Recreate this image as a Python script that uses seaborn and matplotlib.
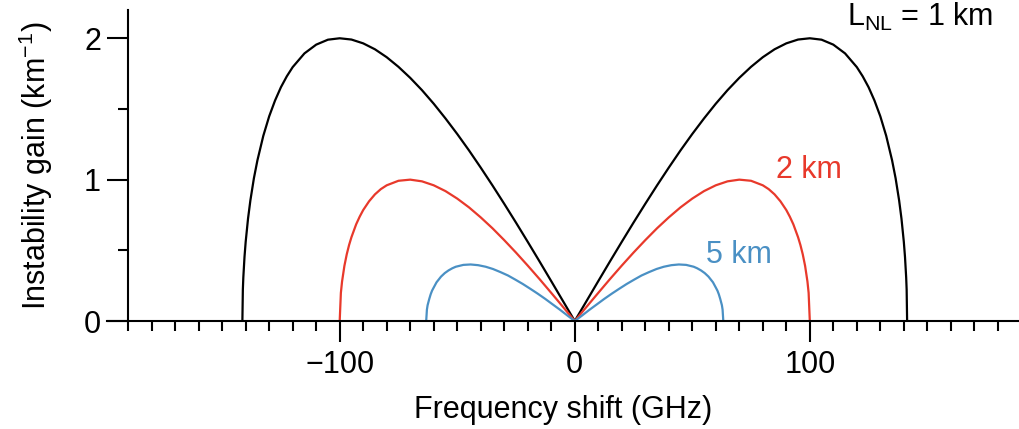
import pandas as pd
import seaborn as sns
import matplotlib
matplotlib.use('Agg')
import matplotlib.pyplot as plt
from matplotlib.ticker import MultipleLocator

# Positive-frequency half of each gain curve (GHz, km^-1)
freq_1km = [0, 5, 10, 15, 20, 25, 30, 35, 40, 45, 50, 55, 60, 65, 70, 75, 80, 85, 90, 95,
            100, 105, 110, 115, 120, 122.5, 125, 127.5, 130, 132.5, 135, 136.5, 138, 139,
            140, 140.5, 141, 141.2, 141.4]
gain_1km = [0, 0.141, 0.282, 0.422, 0.560, 0.696, 0.829, 0.959, 1.085, 1.207, 1.323, 1.433,
            1.537, 1.633, 1.720, 1.798, 1.866, 1.922, 1.964, 1.991, 2.000, 1.990, 1.955,
            1.893, 1.796, 1.731, 1.654, 1.560, 1.448, 1.310, 1.137, 1.010, 0.853, 0.724,
            0.560, 0.453, 0.308, 0.223, 0]

freq_2km = [0, 5, 10, 15, 20, 25, 30, 35, 40, 45, 50, 55, 60, 65, 70, 75, 80, 82.5, 85, 87.5,
            90, 91.5, 93, 95, 96, 97, 98, 99, 99.5, 100]
gain_2km = [0, 0.100, 0.199, 0.297, 0.392, 0.484, 0.572, 0.656, 0.733, 0.804, 0.866, 0.919,
            0.960, 0.988, 1.000, 0.992, 0.960, 0.933, 0.896, 0.847, 0.785, 0.738, 0.684,
            0.593, 0.538, 0.472, 0.390, 0.279, 0.199, 0]

freq_5km = [0, 3.2, 6.3, 9.5, 12.6, 15.8, 19.0, 22.1, 25.3, 28.4, 31.6, 34.8, 37.9, 41.1,
            44.3, 47.4, 50.6, 52.1, 53.7, 55.3, 56.9, 57.8, 58.8, 60.0, 60.7, 61.3, 61.9,
            62.6, 62.9, 63.2]
gain_5km = [0, 0.040, 0.080, 0.119, 0.157, 0.194, 0.229, 0.262, 0.293, 0.322, 0.346, 0.368,
            0.384, 0.395, 0.400, 0.397, 0.384, 0.373, 0.358, 0.339, 0.314, 0.295, 0.274,
            0.237, 0.215, 0.189, 0.156, 0.112, 0.080, 0]

curves = {'1 km': (freq_1km, gain_1km), '2 km': (freq_2km, gain_2km), '5 km': (freq_5km, gain_5km)}
colors = {'1 km': '#000000', '2 km': '#e8392b', '5 km': '#4a90c4'}

# gain spectrum is symmetric, so mirror each half to the negative side
rows = []
for name, (f, g) in curves.items():
    full_f = [-v for v in f[::-1]] + f[1:]
    full_g = g[::-1] + g[1:]
    for i, (fv, gv) in enumerate(zip(full_f, full_g)):
        rows.append({'L_NL': name, 'idx': i, 'freq': fv, 'gain': gv})
df = pd.DataFrame(rows)

sns.set_style('ticks')
plt.rcParams['font.family'] = ['Liberation Sans', 'DejaVu Sans']
plt.rcParams['mathtext.fontset'] = 'custom'
plt.rcParams['mathtext.rm'] = 'Liberation Sans'
plt.rcParams['mathtext.it'] = 'Liberation Sans:italic'
for key in ['text.color', 'axes.labelcolor', 'xtick.color', 'ytick.color', 'axes.edgecolor']:
    plt.rcParams[key] = 'black'

fs = 22
fig = plt.figure(figsize=(10.19, 4.29), dpi=100)
ax = fig.add_axes([0.105, 0.2517, 0.895, 0.725])

for name in ['1 km', '2 km', '5 km']:
    sns.lineplot(data=df[df['L_NL'] == name], x='freq', y='gain', sort=False,
                 estimator=None, color=colors[name], lw=1.6, ax=ax)

ax.set_xlim(-199, 189)
ax.set_ylim(0, 2.2)

for s in ['top', 'right']:
    ax.spines[s].set_visible(False)
ax.spines['left'].set_position(('data', -190))
ax.spines['left'].set_linewidth(1.5)
ax.spines['bottom'].set_linewidth(1.5)

ax.set_xticks([-100, 0, 100])
ax.xaxis.set_minor_locator(MultipleLocator(10))
ax.set_yticks([0, 1, 2])
ax.yaxis.set_minor_locator(MultipleLocator(0.5))
ax.tick_params(axis='both', which='major', length=15, width=1.5, labelsize=fs)
ax.tick_params(axis='both', which='minor', length=7.5, width=1.5)
ax.tick_params(axis='x', which='major', pad=6)
ax.tick_params(axis='y', which='major', pad=4.5)

ax.set_xlabel('Frequency shift (GHz)', fontsize=fs, labelpad=11)
ax.set_ylabel('Instability gain (km$^{-1}$)', fontsize=fs)
ax.yaxis.set_label_coords(-0.057, 0.5)

ax.text(178, 2.15, r'L$_{\mathrm{NL}}$ = 1 km', fontsize=fs, ha='right', va='center')
ax.text(85.5, 1.07, '2 km', fontsize=fs, ha='left', va='center', color=colors['2 km'])
ax.text(56, 0.47, '5 km', fontsize=fs, ha='left', va='center', color=colors['5 km'])

plt.savefig('out.png', dpi=100)
